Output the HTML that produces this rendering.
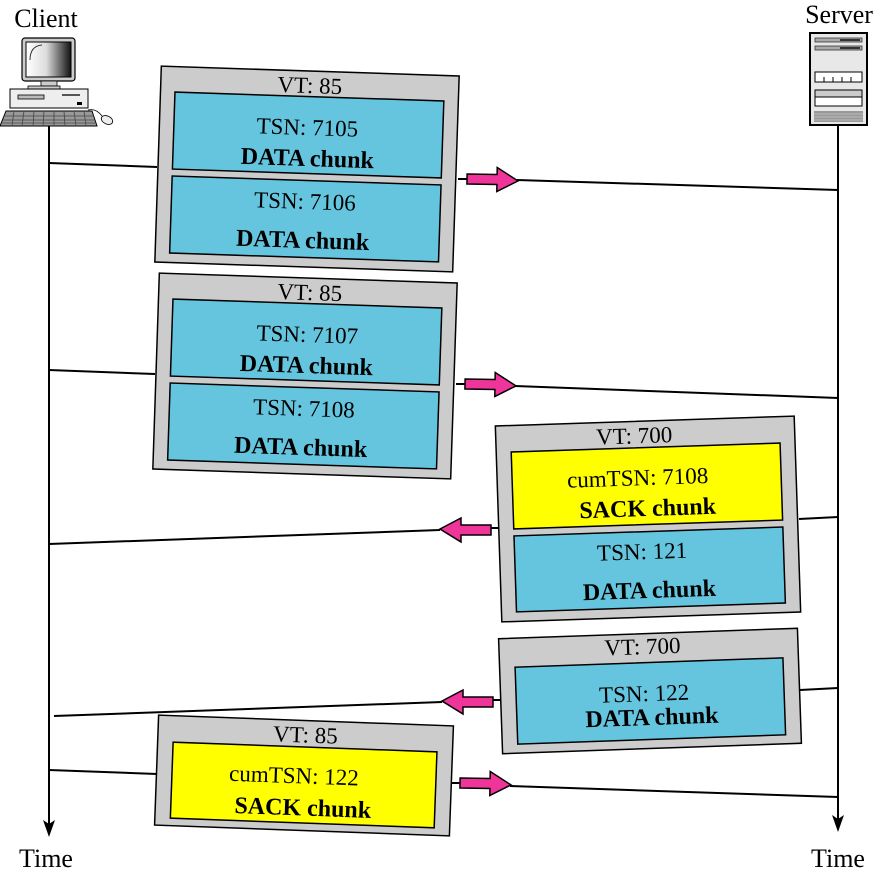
<!DOCTYPE html>
<html><head><meta charset="utf-8"><style>
html,body{margin:0;padding:0;background:#fff}
svg{display:block}
text{font-family:"Liberation Serif",serif;fill:#000}
.r{font-size:23px}
.b{font-weight:bold;font-size:24px}
</style></head><body>
<svg width="875" height="875" viewBox="0 0 875 875" xmlns="http://www.w3.org/2000/svg">
<defs>
<linearGradient id="scr" x1="0" x2="1" y1="0" y2="0"><stop offset="0" stop-color="#fff"/><stop offset="0.45" stop-color="#ddd"/><stop offset="1" stop-color="#111"/></linearGradient>
<g id="arr"><polygon points="0,-6 30,-6 30,-13 51,0 30,11 30,4 0,4" fill="#f0359a" stroke="#000" stroke-width="1.5" stroke-linejoin="miter"/></g>
</defs>

<text x="46" y="27" font-size="26" text-anchor="middle">Client</text>
<text x="839" y="23" font-size="26" text-anchor="middle">Server</text>
<text x="46" y="867" font-size="26" text-anchor="middle">Time</text>
<text x="838" y="867" font-size="26" text-anchor="middle">Time</text>

<rect x="22" y="38" width="53" height="43" rx="3" fill="#ccc" stroke="#000" stroke-width="1.2"/>
<rect x="26" y="42" width="45" height="35" fill="url(#scr)" stroke="#000" stroke-width="1"/>
<path d="M30 60 Q30 46 42 45" fill="none" stroke="#333" stroke-width="1"/>
<rect x="41" y="81" width="16" height="5" fill="#ccc" stroke="#000" stroke-width="0.8"/>
<rect x="28" y="86" width="32" height="3" fill="#ccc" stroke="#000" stroke-width="0.8"/>
<rect x="10" y="89" width="78" height="19" fill="#eee" stroke="#000" stroke-width="1"/>
<rect x="18" y="95" width="26" height="4" fill="#bbb" stroke="#000" stroke-width="0.8"/>
<rect x="62" y="94" width="18" height="2" fill="#555"/>
<rect x="77" y="102" width="5" height="3" fill="#000"/>
<polygon points="6,111 92,111 97,126 0,126" fill="#999" stroke="#000" stroke-width="1"/>
<path d="M4 116 H94 M3 120 H95 M2 123 H96" stroke="#444" stroke-width="0.8"/>
<path d="M14 111 L12 126 M24 111 L22 126 M34 111 L33 126 M44 111 L43 126 M54 111 L54 126 M64 111 L65 126 M74 111 L76 126 M84 111 L86 126" stroke="#444" stroke-width="0.8"/>
<path d="M88 110 Q96 108 102 116" fill="none" stroke="#000" stroke-width="0.8"/>
<ellipse cx="107" cy="120" rx="6" ry="4" fill="#eee" stroke="#000" stroke-width="0.8" transform="rotate(25 107 120)"/>

<rect x="810" y="33" width="57" height="92" fill="#e8e8e8" stroke="#000" stroke-width="2"/>
<rect x="815" y="38" width="47" height="4" fill="#aaa" stroke="#333" stroke-width="0.8"/>
<rect x="840" y="39" width="20" height="2" fill="#333"/>
<rect x="815" y="46" width="47" height="4" fill="#aaa" stroke="#333" stroke-width="0.8"/>
<rect x="840" y="47" width="20" height="2" fill="#333"/>
<rect x="815" y="72" width="47" height="10" fill="#fff" stroke="#000" stroke-width="1"/>
<path d="M824 77 V82 M833 77 V82 M842 77 V82 M851 77 V82" stroke="#000" stroke-width="1"/>
<rect x="815" y="90" width="47" height="16" fill="#fff" stroke="#000" stroke-width="1"/>
<rect x="815" y="90" width="47" height="7" fill="#ccc" stroke="#000" stroke-width="1"/>
<rect x="814" y="111" width="49" height="11" fill="#999"/>
<path d="M814 114 H863 M814 117 H863 M814 120 H863" stroke="#bbb" stroke-width="1"/>

<line x1="49" y1="126" x2="49" y2="825" stroke="#000" stroke-width="2"/>
<polygon points="43,820 49,837 55,820 49,824" fill="#000"/>
<line x1="838" y1="126" x2="838" y2="820" stroke="#000" stroke-width="2"/>
<polygon points="832,815 838,832 844,815 838,819" fill="#000"/>

<g stroke="#000" stroke-width="2" fill="none">
<line x1="49" y1="163" x2="157" y2="167"/>
<line x1="458" y1="179" x2="467" y2="179"/>
<line x1="517" y1="180" x2="838" y2="190"/>
<line x1="49" y1="370" x2="155" y2="374"/>
<line x1="456" y1="384" x2="465" y2="384"/>
<line x1="515" y1="386" x2="838" y2="398"/>
<line x1="838" y1="517" x2="799" y2="519"/>
<line x1="498" y1="528" x2="490" y2="528"/>
<line x1="440" y1="530" x2="49" y2="544"/>
<line x1="838" y1="688" x2="800" y2="690"/>
<line x1="501" y1="700" x2="492" y2="700"/>
<line x1="442" y1="702" x2="54" y2="716"/>
<line x1="49" y1="770" x2="157" y2="774"/>
<line x1="452" y1="783" x2="460" y2="783"/>
<line x1="510" y1="786" x2="838" y2="797"/>
</g>
<use href="#arr" transform="translate(467,180) rotate(1)"/>
<use href="#arr" transform="translate(465,385) rotate(1)"/>
<use href="#arr" transform="translate(491,529) rotate(180)"/>
<use href="#arr" transform="translate(493,701) rotate(180)"/>
<use href="#arr" transform="translate(460,784) rotate(1)"/>

<g transform="translate(307,169) rotate(1.9)">
<rect x="-149" y="-98" width="298" height="196" fill="#ccc" stroke="#000" stroke-width="1.5"/>
<rect x="-134.5" y="-72.5" width="269" height="77" fill="#66c5de" stroke="#000" stroke-width="1.5"/>
<rect x="-134.5" y="11.5" width="269" height="77" fill="#66c5de" stroke="#000" stroke-width="1.5"/>
<text x="0" y="-76" class="r" text-anchor="middle">VT: 85</text>
<text x="-1" y="-34" class="r" text-anchor="middle">TSN: 7105</text>
<text x="0" y="-3" class="b" text-anchor="middle">DATA chunk</text>
<text x="-1" y="40" class="r" text-anchor="middle">TSN: 7106</text>
<text x="-2" y="79" class="b" text-anchor="middle">DATA chunk</text>
</g>
<g transform="translate(305,376) rotate(1.9)">
<rect x="-149" y="-98" width="298" height="196" fill="#ccc" stroke="#000" stroke-width="1.5"/>
<rect x="-134.5" y="-72.5" width="269" height="77" fill="#66c5de" stroke="#000" stroke-width="1.5"/>
<rect x="-134.5" y="11.5" width="269" height="77" fill="#66c5de" stroke="#000" stroke-width="1.5"/>
<text x="2" y="-76" class="r" text-anchor="middle">VT: 85</text>
<text x="1" y="-34" class="r" text-anchor="middle">TSN: 7107</text>
<text x="1" y="-3" class="b" text-anchor="middle">DATA chunk</text>
<text x="0" y="40" class="r" text-anchor="middle">TSN: 7108</text>
<text x="-2" y="79" class="b" text-anchor="middle">DATA chunk</text>
</g>
<g transform="translate(648,519) rotate(-1.9)">
<rect x="-149.5" y="-98" width="299" height="196" fill="#ccc" stroke="#000" stroke-width="1.5"/>
<rect x="-134.5" y="-71.5" width="269" height="77" fill="#ffff00" stroke="#000" stroke-width="1.5"/>
<rect x="-134.5" y="12.5" width="269" height="76" fill="#66c5de" stroke="#000" stroke-width="1.5"/>
<text x="-11" y="-76" class="r" text-anchor="middle">VT: 700</text>
<text x="-9" y="-34" class="r" text-anchor="middle">cumTSN: 7108</text>
<text x="0" y="-3" class="b" text-anchor="middle">SACK chunk</text>
<text x="-7" y="40" class="r" text-anchor="middle">TSN: 121</text>
<text x="-1" y="79" class="b" text-anchor="middle">DATA chunk</text>
</g>
<g transform="translate(650,691) rotate(-2)">
<rect x="-149.5" y="-57.5" width="299" height="115" fill="#ccc" stroke="#000" stroke-width="1.5"/>
<rect x="-134" y="-28.5" width="268" height="77" fill="#66c5de" stroke="#000" stroke-width="1.5"/>
<text x="-6" y="-37" class="r" text-anchor="middle">VT: 700</text>
<text x="-6" y="10" class="r" text-anchor="middle">TSN: 122</text>
<text x="1" y="34" class="b" text-anchor="middle">DATA chunk</text>
</g>
<g transform="translate(304,775.5) rotate(2.1)">
<rect x="-147.5" y="-55" width="295" height="110" fill="#ccc" stroke="#000" stroke-width="1.5"/>
<rect x="-132" y="-28.5" width="264" height="76" fill="#ffff00" stroke="#000" stroke-width="1.5"/>
<text x="0" y="-33" class="r" text-anchor="middle">VT: 85</text>
<text x="-10" y="8" class="r" text-anchor="middle">cumTSN: 122</text>
<text x="0" y="40" class="b" text-anchor="middle">SACK chunk</text>
</g>
</svg>
</body></html>
